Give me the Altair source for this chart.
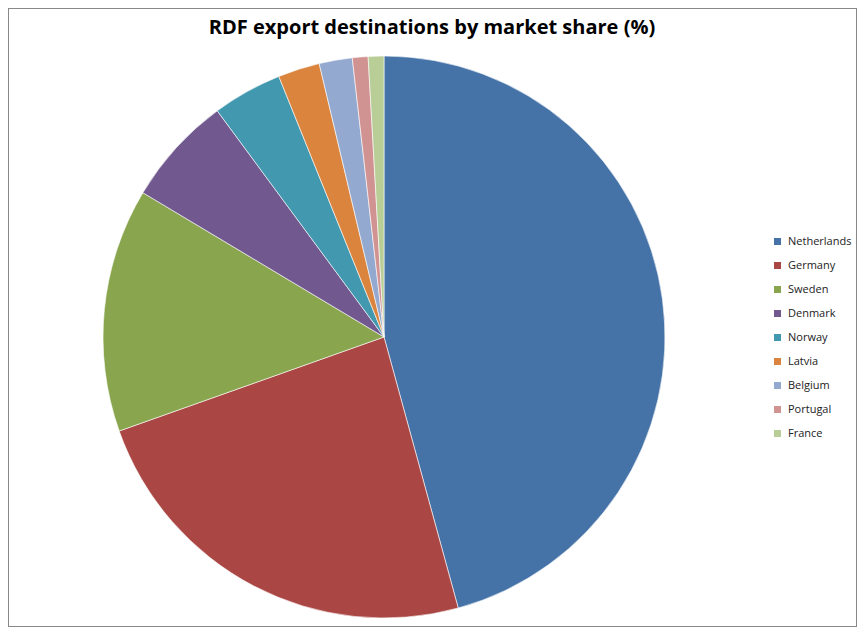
import altair as alt
import pandas as pd

countries = ["Netherlands", "Germany", "Sweden", "Denmark", "Norway",
             "Latvia", "Belgium", "Portugal", "France"]
shares = [45.7, 23.8, 14.0, 6.3, 4.0, 2.4, 1.9, 0.9, 0.9]
colors = ["#4572A7", "#AA4643", "#89A54E", "#71588F", "#4198AF",
          "#DB843D", "#93A9CF", "#D19392", "#B9CD96"]
title_text = "RDF export destinations by market share (%)"

df = pd.DataFrame({"country": countries, "share": shares,
                   "order": list(range(len(countries)))})

W, H = 849, 619

pie = alt.Chart(df).mark_arc(
    outerRadius=281, stroke="white", strokeWidth=0.6
).encode(
    theta=alt.Theta("share:Q", stack=True),
    order=alt.Order("order:Q", sort="ascending"),
    color=alt.Color(
        "country:N",
        sort=countries,
        scale=alt.Scale(domain=countries, range=colors),
        legend=alt.Legend(
            title=None, orient="none", legendX=764, legendY=228,
            symbolType="square", symbolSize=49, symbolStrokeWidth=0,
            labelFontSize=11, labelFont="Open Sans", labelColor="#222222",
            rowPadding=12, labelOffset=5,
        ),
    ),
    x=alt.value(376),
    y=alt.value(329),
)

title = alt.Chart(pd.DataFrame({"t": [title_text]})).mark_text(
    font="Open Sans", fontSize=20, fontWeight="bold", color="black",
    align="center", baseline="middle"
).encode(text="t:N", x=alt.value(424), y=alt.value(20))

chart = alt.layer(pie, title).properties(
    width=W, height=H, padding=0, autosize=alt.AutoSizeParams(type="none")
).configure_view(stroke="#888888", strokeWidth=2)

chart.save("out.html", embed_options={"renderer": "svg", "actions": False})
